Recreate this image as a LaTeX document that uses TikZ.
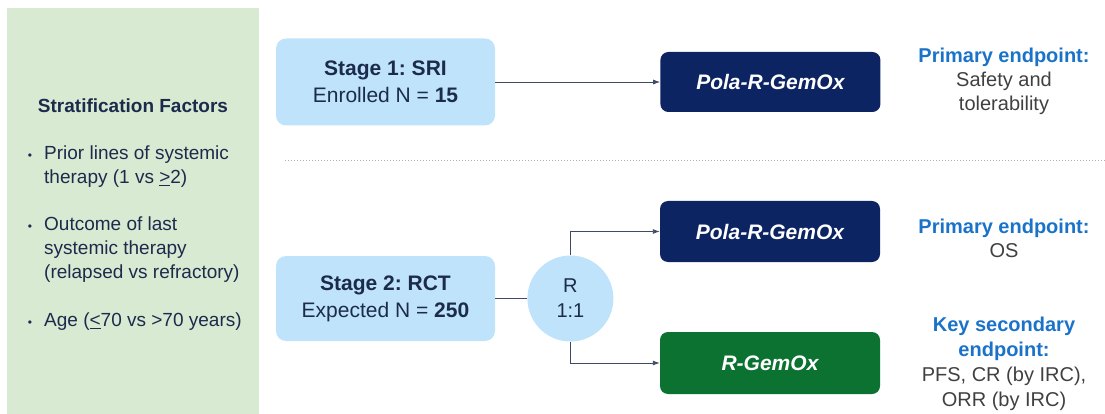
\documentclass[tikz,border=0pt]{standalone}
\usepackage{fontspec}
\setmainfont{Liberation Sans}
\usepackage{xcolor}
\usetikzlibrary{positioning}
\usetikzlibrary{arrows.meta}
\frenchspacing
\definecolor{stratgreen}{HTML}{D9EAD3}
\definecolor{stageblue}{HTML}{BEE3FA}
\definecolor{armnavy}{HTML}{0C2462}
\definecolor{armgreen}{HTML}{0B7231}
\definecolor{navytext}{HTML}{1C2B4C}
\definecolor{endblue}{HTML}{1A73C8}
\definecolor{endgray}{HTML}{404040}
\definecolor{linkgray}{HTML}{3E4A66}

\begin{document}
\begin{tikzpicture}[x=1pt, y=-1pt,
stagenode/.style={rectangle, rounded corners=10pt, fill=stageblue, minimum width=219pt, minimum height=87pt, align=center, text=navytext, font=\fontsize{21}{27}\selectfont},
armnode/.style={rectangle, rounded corners=8pt, fill=#1, minimum width=220pt, minimum height=60pt, text=white, font=\fontsize{21}{25}\selectfont\bfseries\itshape},
randnode/.style={circle, fill=stageblue, minimum size=86pt, inner sep=0pt, align=center, text=navytext, font=\fontsize{20}{25}\selectfont},
endnode/.style={align=center, text=endgray, font=\fontsize{20}{24}\selectfont},
link/.style={draw=linkgray, line width=0.9pt},
]
\useasboundingbox (0,0) rectangle (1105,414);
\fill[stratgreen] (7,8) rectangle (259,414);

%Nodes
\node[text=navytext, font=\fontsize{19}{24}\selectfont\bfseries] (strattitle) at (133,106) {Stratification Factors};
\node[anchor=north west, align=left, inner sep=0pt, text=navytext, font=\fontsize{19}{24}\selectfont] (stratlist) at (44,146)
  {\llap{\fontsize{12}{12}\selectfont\textbullet\hspace{12pt}}Prior lines of systemic\\
   therapy (1 vs \underline{>}2)\\[23pt]
   \llap{\fontsize{12}{12}\selectfont\textbullet\hspace{12pt}}Outcome of last\\
   systemic therapy\\
   (relapsed vs refractory)\\[24pt]
   \llap{\fontsize{12}{12}\selectfont\textbullet\hspace{12pt}}Age (\underline{<}70 vs >70 years)};

\node[stagenode]                (stage1)  at (385.5,82)            {\textbf{Stage 1: SRI}\\Enrolled N = \textbf{15}};
\node[armnode=armnavy]          (pola1)   [right=165pt of stage1]  {Pola-R-GemOx};
\node[stagenode, minimum height=85pt] (stage2) at (385.5,298.5)    {\textbf{Stage 2: RCT}\\Expected N = \textbf{250}};
\node[randnode]                 (rand)    [right=32pt of stage2]   {R\\1:1};
\node[armnode=armnavy, minimum height=61pt] (pola2) at (770,231.5) {Pola-R-GemOx};
\node[armnode=armgreen, minimum height=62pt] (rgem) at (770,363)   {R-GemOx};

\node[endnode] (end1) at (1004,81)  {\textcolor{endblue}{\textbf{Primary endpoint:}}\\Safety and\\tolerability};
\node[endnode] (end2) at (1004,238) {\textcolor{endblue}{\textbf{Primary endpoint:}}\\OS};
\node[endnode, font=\fontsize{20}{25}\selectfont] (end3) at (1004,364) {\textcolor{endblue}{\textbf{Key secondary}}\\\textcolor{endblue}{\textbf{endpoint:}}\\PFS, CR (by IRC),\\ORR (by IRC)};

%Lines
\draw[gray!60, dotted, line width=1pt] (285,161) -- (1105,161);
\draw[link, -{Latex[length=7pt,width=5pt]}] (stage1.east) -- (pola1.west);
\draw[link] (stage2.east) -- (rand.west);
\draw[link, -{Latex[length=7pt,width=5pt]}] (rand.north) |- (pola2.west);
\draw[link, -{Latex[length=7pt,width=5pt]}] (rand.south) |- (rgem.west);
\end{tikzpicture}
\end{document}
